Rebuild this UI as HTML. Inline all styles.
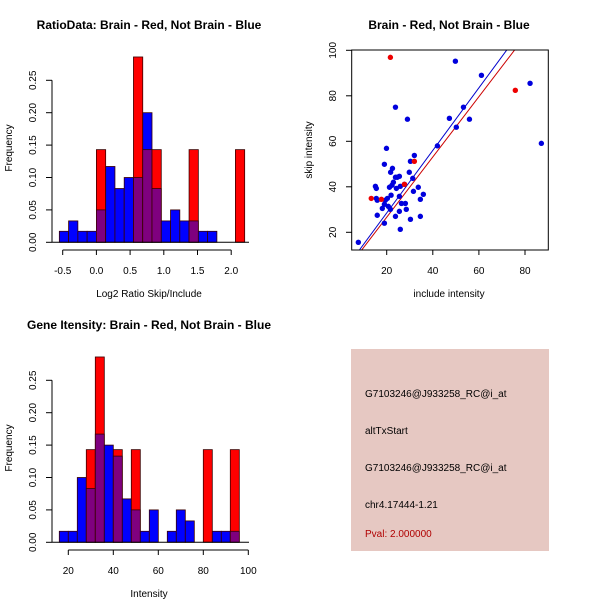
<!DOCTYPE html>
<html><head><meta charset="utf-8"><style>
body{margin:0;background:#fff}
svg{display:block;font-family:"Liberation Sans",sans-serif}
</style></head><body>
<svg id="c" width="600" height="600" xmlns="http://www.w3.org/2000/svg">
<rect width="600" height="600" fill="#fff"/>
<text x="149" y="29" font-size="12" font-weight="bold" text-anchor="middle">RatioData: Brain - Red, Not Brain - Blue</text>
<text x="449" y="29" font-size="12" font-weight="bold" text-anchor="middle">Brain - Red, Not Brain - Blue</text>
<text x="149" y="329" font-size="12" font-weight="bold" text-anchor="middle">Gene Itensity: Brain - Red, Not Brain - Blue</text>
<text x="149" y="297" font-size="10" text-anchor="middle">Log2 Ratio Skip/Include</text>
<text x="149" y="597" font-size="10" text-anchor="middle">Intensity</text>
<text x="449" y="297" font-size="10" text-anchor="middle">include intensity</text>
<text transform="translate(12,148) rotate(-90)" font-size="10" text-anchor="middle">Frequency</text>
<text transform="translate(12,448) rotate(-90)" font-size="10" text-anchor="middle">Frequency</text>
<text transform="translate(312,150) rotate(-90)" font-size="10" text-anchor="middle">skip intensity</text>
<g>
<rect x="351" y="349" width="198" height="202" fill="#e6c8c2"/>
<text x="365" y="397" font-size="10">G7103246@J933258_RC@i_at</text>
<text x="365" y="434" font-size="10">altTxStart</text>
<text x="365" y="471" font-size="10">G7103246@J933258_RC@i_at</text>
<text x="365" y="508" font-size="10">chr4.17444-1.21</text>
<text x="365" y="537" font-size="10" fill="#b00000">Pval: 2.000000</text>
</g>
</svg>
<script>
// Ratio histogram data
const ratioBinStart = -0.55;
const ratioBinWidth = 0.1375;
const ratioBlue = [0.017,0.033,0.017,0.017,0.05,0.117,0.083,0.1,0.1,0.2,0.083,0.033,0.05,0.033,0.033,0.017,0.017,0,0,0];
const ratioRed  = [0,0,0,0,0.143,0,0,0,0.286,0.143,0.143,0,0,0,0.143,0,0,0,0,0.143];
const ratioXTicks = [-0.5,0.0,0.5,1.0,1.5,2.0];
const ratioXLabels = ["-0.5","0.0","0.5","1.0","1.5","2.0"];
const freqTicks = [0,0.05,0.1,0.15,0.2,0.25];
const freqLabels = ["0.00","0.05","0.10","0.15","0.20","0.25"];
// Intensity histogram data
const intBinStart = 16;
const intBinWidth = 4;
const intBlue = [0.017,0.017,0.1,0.083,0.167,0.15,0.133,0.067,0.05,0.017,0.05,0,0.017,0.05,0.033,0,0,0.017,0.017,0.017];
const intRed  = [0,0,0,0.143,0.286,0,0.143,0,0.143,0,0,0,0,0,0,0,0.143,0,0,0.143];
const intXTicks = [20,40,60,80,100];
// Scatter data
const blueX = [7.7,49.8,61.1,82.2,87.1,23.8,29,47.2,53.3,55.9,50.2,42,19.9,32,30.3,19,22.5,21.7,29.8,31.3,23.8,25.5,24.6,22.9,15.1,15.5,21.2,22.3,24.2,25.9,27.7,33.7,31.6,35.9,25.5,15.5,15.9,21.9,20.3,19.4,34.6,18.1,19,20.7,26.4,28.1,28.5,25.5,15.9,23.8,34.6,30.3,19,25.9,21.6];
const blueY = [15.6,95.2,89,85.5,59.1,75,69.7,70.1,75,69.7,66.2,58,56.9,53.8,51.2,49.9,48.1,46.4,46.4,43.7,44.2,44.6,44.2,42,40.2,39.3,39.8,40.7,39.3,40.2,41.1,39.8,38,36.7,35.8,34.9,34.1,36.3,34.9,34.1,34.5,30.5,32.3,31.4,32.7,32.7,30.1,29.2,27.5,27,27,25.7,24,21.3,30.1];
const redX = [21.6,75.8,13.3,17.7,27.7,32];
const redY = [96.9,82.4,34.9,34.5,41.1,51.2];
const blueFit = [1.0,1.375];   // intercept, slope
const redFit = [0.1,1.325];
const scXTicks = [20,40,60,80];
const scYTicks = [20,40,60,80,100];

const NS="http://www.w3.org/2000/svg";
const svg=document.getElementById('c');
function mk(tag,attrs,parent){const e=document.createElementNS(NS,tag);for(const k in attrs)e.setAttribute(k,attrs[k]);(parent||svg).appendChild(e);return e;}

function hist(yOff,bStart,bW,blue,red,xScale,xTicks,xLabels,prefix){
  const y=v=>yOff+242.3-v*648;
  const g=mk('g',{});
  
  
  for(let i=0;i<blue.length;i++){
    const x0=xScale(bStart+i*bW), x1=xScale(bStart+(i+1)*bW);
    const b=blue[i], r=red[i], m=Math.min(b,r), mx=Math.max(b,r);
    if(mx<=0) continue;
    const top = b>=r ? '#0000ff' : '#ff0000';
    const r1=mk('rect',{x:x0,y:y(mx),width:x1-x0,height:y(0)-y(mx),fill:top,stroke:'#3a0000','stroke-width':0.8},g);
    
    
    if(m>0){
      const r2=mk('rect',{x:x0,y:y(m),width:x1-x0,height:y(0)-y(m),fill:'#7f007f',stroke:'#3a0000','stroke-width':0.8},g);
      
      
    }
  }
  mk('line',{x1:52,x2:249,y1:y(0),y2:y(0),stroke:'#000'},g);
  mk('line',{x1:52,x2:52,y1:y(0),y2:y(0.25),stroke:'#000'},g);
  freqTicks.forEach((t,i)=>{
    mk('line',{x1:46,x2:52,y1:y(t),y2:y(t),stroke:'#000'},g);
    const tx=mk('text',{transform:`translate(36,${y(t)}) rotate(-90)`,'font-size':10,'text-anchor':'middle'},g);
    tx.textContent=freqLabels[i];
    
    
  });
  const ay=yOff+250;
  mk('line',{x1:xScale(xTicks[0]),x2:xScale(xTicks[xTicks.length-1]),y1:ay,y2:ay,stroke:'#000'},g);
  xTicks.forEach((t,i)=>{
    mk('line',{x1:xScale(t),x2:xScale(t),y1:ay,y2:ay+5,stroke:'#000'},g);
    const tx=mk('text',{x:xScale(t),y:ay+24,'font-size':10,'text-anchor':'middle'},g);
    tx.textContent=xLabels[i];
    
    
  });
}
hist(0,ratioBinStart,ratioBinWidth,ratioBlue,ratioRed,v=>62.7+(v+0.5)*67.4,ratioXTicks,ratioXLabels,'ratio');
hist(300,intBinStart,intBinWidth,intBlue,intRed,v=>68.3+(v-20)*2.25,intXTicks,intXTicks.map(String),'intensity');

// Scatter
const sx=v=>386.7+(v-20)*2.305;
const sy=v=>232.3-(v-20)*2.275;
const sg=mk('g',{});


mk('clipPath',{id:'clp'},sg);
mk('rect',{x:352,y:50,width:196,height:200},document.getElementById('clp'));
function fitLine(f,color,name){
  const xa=0,xb=100;
  const l=mk('line',{x1:sx(xa),y1:sy(f[0]+f[1]*xa),x2:sx(xb),y2:sy(f[0]+f[1]*xb),stroke:color,'stroke-width':1,'clip-path':'url(#clp)'},sg);
  
  
}
fitLine(blueFit,'#0000cc','blue-fit-line');
fitLine(redFit,'#cc0000','red-fit-line');
blueX.forEach((v,i)=>{
  const c=mk('circle',{cx:sx(v),cy:sy(blueY[i]),r:2.7,fill:'#0000dd'},sg);
  
  
});
redX.forEach((v,i)=>{
  const c=mk('circle',{cx:sx(v),cy:sy(redY[i]),r:2.7,fill:'#ee0000'},sg);
  
  
});
mk('rect',{x:351.7,y:50,width:196.6,height:200,fill:'none',stroke:'#000'},sg);
scXTicks.forEach(t=>{
  mk('line',{x1:sx(t),x2:sx(t),y1:250,y2:255,stroke:'#000'},sg);
  const tx=mk('text',{x:sx(t),y:274,'font-size':10,'text-anchor':'middle'},sg);
  tx.textContent=String(t);
  
  
});
scYTicks.forEach(t=>{
  mk('line',{x1:346,x2:351.7,y1:sy(t),y2:sy(t),stroke:'#000'},sg);
  const tx=mk('text',{transform:`translate(336,${sy(t)}) rotate(-90)`,'font-size':10,'text-anchor':'middle'},sg);
  tx.textContent=String(t);
  
  
});
</script>
</body></html>
